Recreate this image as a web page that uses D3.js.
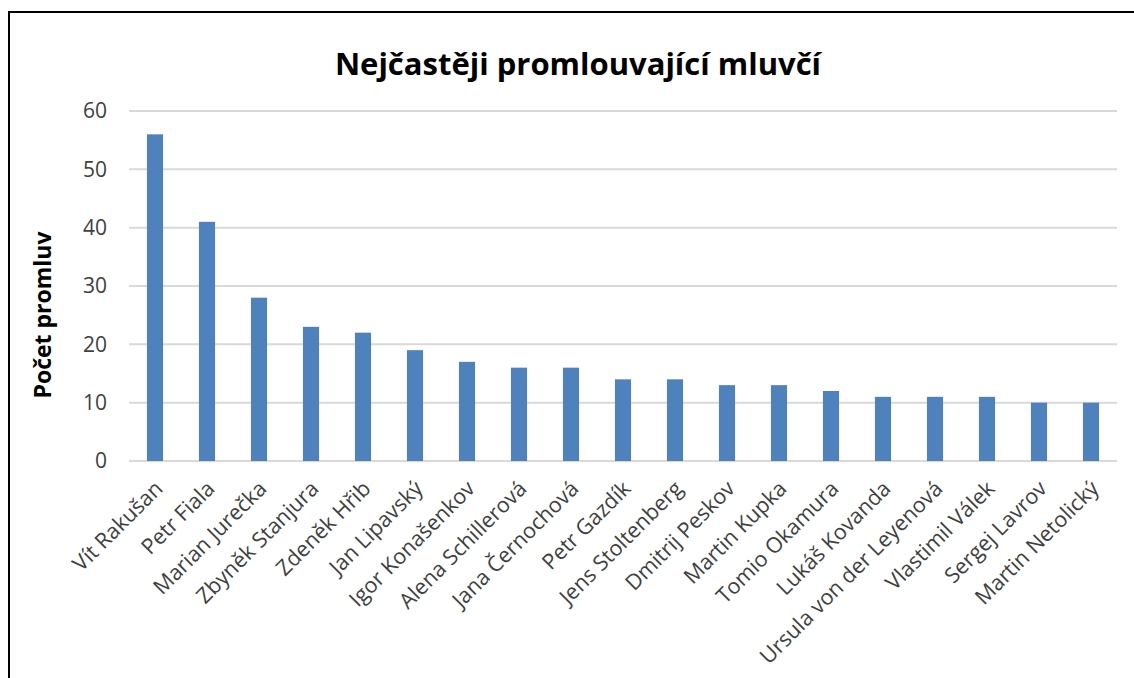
<!DOCTYPE html>
<html><head><meta charset="utf-8">
<script src="https://cdn.jsdelivr.net/npm/d3@7"></script>
<style>
body{margin:0;background:#fff;}
svg{display:block;}
</style></head>
<body>
<script>
const categories = ["Vít Rakušan","Petr Fiala","Marian Jurečka","Zbyněk Stanjura","Zdeněk Hřib","Jan Lipavský","Igor Konašenkov","Alena Schillerová","Jana Černochová","Petr Gazdík","Jens Stoltenberg","Dmitrij Peskov","Martin Kupka","Tomio Okamura","Lukáš Kovanda","Ursula von der Leyenová","Vlastimil Válek","Sergej Lavrov","Martin Netolický"];
const values = [56,41,28,23,22,19,17,16,16,14,14,13,13,12,11,11,11,10,10];
const yTicks = [0,10,20,30,40,50,60];
const chartTitle = "Nejčastěji promlouvající mluvčí";
const yTitle = "Počet promluv";

(function(){
const W = 1134, H = 678;
const svg = d3.select("body").append("svg").attr("width", W).attr("height", H);
svg.append("rect").attr("x",0).attr("y",0).attr("width",W).attr("height",H).attr("fill","#fff");
// frame
svg.append("rect").attr("x",9).attr("y",12).attr("width",W+20).attr("height",H+20)
  .attr("fill","none").attr("stroke","#000").attr("stroke-width",2);

const font = "'Open Sans', 'Noto Sans', sans-serif";
const mL = 129, mR = 1117, mT = 111, mB = 461;
const x = d3.scaleBand().domain(categories).range([mL, mR]).paddingInner(0.69).paddingOuter(0.345);
const y = d3.scaleLinear().domain([0,60]).range([mB, mT]);

// gridlines
svg.append("g").selectAll("line").data(yTicks).join("line")
  .attr("x1", mL).attr("x2", mR)
  .attr("y1", d=>y(d)).attr("y2", d=>y(d))
  .attr("stroke", "#d9d9d9").attr("stroke-width", 2);

// y axis
const yAxis = d3.axisLeft(y).tickValues(yTicks).tickSize(0).tickPadding(22);
const gy = svg.append("g").attr("transform", `translate(${mL},0)`).call(yAxis);
gy.select(".domain").remove();
gy.attr("font-size", null).attr("font-family", null);
gy.selectAll("text").style("font-family", font).style("font-size", "21px").attr("fill", "#404040");

// bars
svg.append("g").selectAll("rect").data(values).join("rect")
  .attr("x", (d,i)=>x(categories[i]))
  .attr("width", x.bandwidth())
  .attr("y", d=>y(d))
  .attr("height", d=>y(0)-y(d))
  .attr("fill", "#4f81bd");

// x axis
const xAxis = d3.axisBottom(x).tickSize(0).tickPadding(0);
const gx = svg.append("g").attr("transform", `translate(0,${mB})`).call(xAxis);
gx.select(".domain").remove();
gx.attr("font-size", null).attr("font-family", null);
gx.selectAll("text")
  .style("font-family", font).style("font-size", "21.5px").attr("fill", "#404040")
  .attr("text-anchor", "end")
  .attr("dy", null).attr("y", 0)
  .attr("transform", "translate(9,29) rotate(-45)");

// title
svg.append("text").attr("x", 578).attr("y", 75).attr("text-anchor","middle")
  .style("font-family", font).style("font-size", "31px").attr("font-weight", "bold").attr("fill","#000")
  .text(chartTitle);

// y title
svg.append("text").attr("transform", `translate(51,315) rotate(-90)`)
  .attr("text-anchor","middle")
  .style("font-family", font).style("font-size", "23px").attr("font-weight", "bold").attr("fill","#000")
  .text(yTitle);
})();
</script>
</body></html>
